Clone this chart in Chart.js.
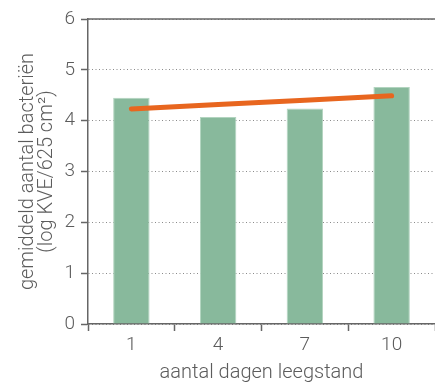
<!DOCTYPE html>
<html>
<head>
<meta charset="utf-8">
<script src="https://cdn.jsdelivr.net/npm/chart.js@4/dist/chart.umd.min.js"></script>
<style>
  html, body { margin: 0; padding: 0; background: #fff; }
  #wrap { width: 435px; height: 383px; }
</style>
</head>
<body>
<div id="wrap"><canvas id="bactChart" width="435" height="383"></canvas></div>
<script>
// days empty (x categories) and mean bacteria counts
const dayLabels = ['1', '4', '7', '10'];
const meanCounts = [4.45, 4.07, 4.24, 4.66];
const trendValues = [4.23, 4.32, 4.40, 4.49];
const yTicks = [0, 1, 2, 3, 4, 5, 6];

const textColor = '#5c5c5c';
const axisColor = '#666666';

// solid line along the top of the plot area
const topLinePlugin = {
  id: 'topLine',
  afterDraw(chart) {
    const { ctx, chartArea } = chart;
    ctx.save();
    ctx.strokeStyle = axisColor;
    ctx.lineWidth = 1.5;
    ctx.beginPath();
    ctx.moveTo(chartArea.left, chartArea.top);
    ctx.lineTo(chartArea.right, chartArea.top);
    ctx.stroke();
    ctx.restore();
  }
};

new Chart(document.getElementById('bactChart'), {
  data: {
    labels: dayLabels,
    datasets: [
      {
        type: 'line',
        data: trendValues,
        borderColor: '#e8661f',
        borderWidth: 5,
        borderCapStyle: 'round',
        pointRadius: 0,
        fill: false,
        order: 0
      },
      {
        type: 'bar',
        data: meanCounts,
        backgroundColor: '#88b99c',
        borderColor: '#b2d4bf',
        borderWidth: 1,
        barPercentage: 0.42,
        categoryPercentage: 1,
        order: 1
      }
    ]
  },
  options: {
    responsive: false,
    animation: false,
    layout: { padding: { top: 19, right: 0, bottom: 0, left: 0 } },
    plugins: {
      legend: { display: false },
      tooltip: { enabled: false }
    },
    scales: {
      x: {
        offset: true,
        afterFit: s => { s.height = 59; },
        grid: {
          offset: true,
          drawOnChartArea: false,
          tickLength: 7,
          tickColor: axisColor,
          tickWidth: 1.5
        },
        border: { color: axisColor, width: 1.5 },
        ticks: {
          color: textColor,
          padding: 3,
          font: { family: 'Roboto', size: 19, weight: '300' }
        },
        title: {
          display: true,
          text: 'aantal dagen leegstand',
          color: textColor,
          padding: { top: 0, bottom: 0 },
          font: { family: 'Roboto', size: 20, weight: '300', lineHeight: '20px' }
        }
      },
      y: {
        min: 0,
        max: 6,
        afterFit: s => { s.width = 88; },
        afterBuildTicks: s => { s.ticks = yTicks.map(v => ({ value: v })); },
        grid: {
          color: '#8a8a8a',
          lineWidth: 1,
          tickLength: 7,
          tickColor: axisColor,
          tickWidth: 1.5
        },
        border: { color: axisColor, width: 1.5, dash: [1, 2.5] },
        ticks: {
          color: textColor,
          padding: 6,
          font: { family: 'Roboto', size: 19, weight: '300' }
        },
        title: {
          display: true,
          text: ['gemiddeld aantal bacteriën', '(log KVE/625 cm²)'],
          color: textColor,
          padding: { top: 18, bottom: 0 },
          font: { family: 'Roboto', size: 20, weight: '300', lineHeight: '19px' }
        }
      }
    }
  },
  plugins: [topLinePlugin]
});
</script>
</body>
</html>
